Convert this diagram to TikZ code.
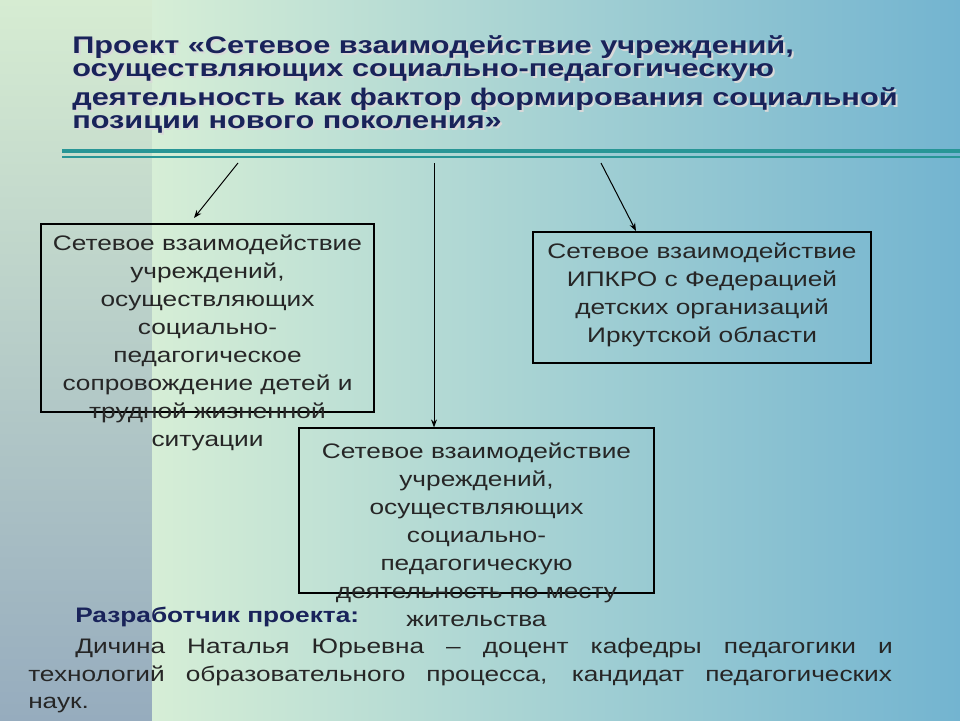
\documentclass[tikz,border=0pt]{standalone}
\usepackage{fontspec}
\setmainfont{Liberation Sans}
\usetikzlibrary{arrows.meta}
\definecolor{lg}{RGB}{214,236,210}
\definecolor{lb}{RGB}{150,172,190}
\definecolor{rg}{RGB}{214,238,214}
\definecolor{rb}{RGB}{115,180,208}
\definecolor{teal1}{RGB}{40,150,150}
\definecolor{navy}{RGB}{25,35,90}
\begin{document}
\begin{tikzpicture}[x=1pt,y=-1pt,
  box/.style={draw=black,line width=1.2pt,inner sep=0pt},
  btxt/.style={align=center,font=\fontsize{21}{28}\selectfont,text=black!85,xscale=1.25,inner sep=0pt},
  ttl/.style={anchor=west,font=\fontsize{24}{24}\selectfont\bfseries,text=navy,xscale=1.28,inner sep=0pt},
  ptxt/.style={anchor=west,inner sep=0pt,font=\fontsize{21}{22}\selectfont,text=black!85,xscale=1.25},
  arr/.style={-{Stealth[length=8pt,width=6pt]},line width=1pt}]
\useasboundingbox (0,0) rectangle (960,720);
\shade[top color=lg,bottom color=lb] (0,0) rectangle (152,720);
\shade[left color=rg,right color=rb] (152,0) rectangle (960,720);
\fill[teal1] (62,149) rectangle (960,153);
\fill[teal1] (62,156) rectangle (960,158);
\foreach \t/\yy in {{Проект «Сетевое взаимодействие учреждений,}/47,{осуществляющих социально-педагогическую}/73,{деятельность как фактор формирования социальной}/99,{позиции нового поколения»}/124}{
  \node[ttl,text=white!70!gray] at (74,\yy+2) {\t};
  \node[ttl] at (72,\yy) {\t};}
\node[box,minimum width=333pt,minimum height=188pt] (b1) at (207.5,318) {};
\node[box,minimum width=338pt,minimum height=131pt] (b2) at (702,297.5) {};
\node[box,minimum width=355pt,minimum height=165pt] (b3) at (476.5,510.5) {};
\node[btxt] (t1) at (207.5,343) {Сетевое взаимодействие\\учреждений,\\осуществляющих\\социально-\\педагогическое\\сопровождение детей и\\трудной жизненной\\ситуации};
\node[btxt] (t2) at (702,294.5) {Сетевое взаимодействие\\ИПКРО с Федерацией\\детских организаций\\Иркутской области};
\node[btxt] (t3) at (476.5,535) {Сетевое взаимодействие\\учреждений,\\осуществляющих\\социально-\\педагогическую\\деятельность по месту\\жительства};
\coordinate (s1) at (238,163); \coordinate (e1) at (194,218);
\coordinate (s2) at (434,163);
\coordinate (s3) at (601,163); \coordinate (e3) at (636,231);
\draw[arr] (s1) -- (e1);
\draw[arr] (s2) -- (s2 |- b3.north);
\draw[arr] (s3) -- (e3);
\node[ptxt,font=\fontsize{21}{22}\selectfont\bfseries,text=navy] (dev) at (75,617) {Разработчик проекта:};
\node[ptxt] (l1) at (75,648) {\makebox[654pt][s]{Дичина Наталья Юрьевна – доцент кафедры педагогики и}};
\node[ptxt] (l2) at (28,676) {\makebox[691pt][s]{технологий образовательного процесса, кандидат педагогических}};
\node[ptxt] (l3) at (28,705) {наук.};
\end{tikzpicture}
\end{document}
